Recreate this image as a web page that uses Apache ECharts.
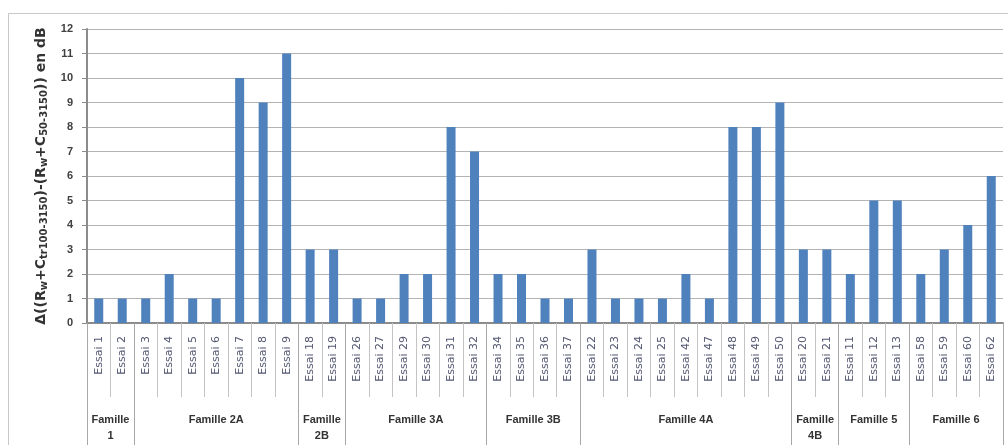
<!DOCTYPE html>
<html>
<head>
<meta charset="utf-8">
<script src="https://cdn.jsdelivr.net/npm/echarts@6/dist/echarts.min.js"></script>
<style>
html,body{margin:0;padding:0;background:#fff;}
#c{width:1008px;height:445px;}
</style>
</head>
<body>
<div id="c"></div>
<script>
const categories = ['Essai 1','Essai 2','Essai 3','Essai 4','Essai 5','Essai 6','Essai 7','Essai 8','Essai 9',
  'Essai 18','Essai 19','Essai 26','Essai 27','Essai 29','Essai 30','Essai 31','Essai 32',
  'Essai 34','Essai 35','Essai 36','Essai 37','Essai 22','Essai 23','Essai 24','Essai 25','Essai 42','Essai 47',
  'Essai 48','Essai 49','Essai 50','Essai 20','Essai 21','Essai 11','Essai 12','Essai 13',
  'Essai 58','Essai 59','Essai 60','Essai 62'];
const values = [1,1,1,2,1,1,10,9,11, 3,3, 1,1,2,2,8,7, 2,2,1,1, 3,1,1,1,2,1,8,8,9, 3,3, 2,5,5, 2,3,4,6];
const groupNames = ['Famille 1','Famille 2A','Famille 2B','Famille 3A','Famille 3B','Famille 4A','Famille 4B','Famille 5','Famille 6'];
const groupSizes = [2,7,2,6,4,9,2,3,4];
const yTicks = [0,1,2,3,4,5,6,7,8,9,10,11,12];

const boundaries = [0];
groupSizes.forEach(s => boundaries.push(boundaries[boundaries.length-1] + s));
const centers = groupSizes.map((s,i) => boundaries[i] + s/2);
function groupLabel(v){
  const i = centers.findIndex(c => Math.abs(c - v) < 1e-6);
  if (i < 0) return '';
  const n = groupNames[i];
  return groupSizes[i] <= 2 ? n.replace(' ', '\n') : n;
}

const chart = echarts.init(document.getElementById('c'));
chart.setOption({
  animation:false,
  backgroundColor:'#fff',
  graphic:[{type:'rect', shape:{x:8.5,y:13.5,width:1010,height:440}, style:{fill:'none', stroke:'#c8c8c8', lineWidth:1}, silent:true, z:-1}],
  grid:{left:87, top:29, right:5, bottom:122, containLabel:false},
  xAxis:[{
    type:'category', data:categories, gridIndex:0, position:'bottom',
    axisLine:{show:true, lineStyle:{color:'#8c8c8c', width:2}},
    axisTick:{show:true, alignWithLabel:false, length:74, lineStyle:{color:'#c4c4c4', width:1}},
    axisLabel:{rotate:90, interval:0, margin:13, fontFamily:'DejaVu Sans', fontSize:11, color:'#545872'},
    splitLine:{show:false}
  },{
    type:'value', min:0, max:boundaries[boundaries.length-1], gridIndex:0, position:'bottom',
    axisLine:{show:false},
    axisTick:{show:true, customValues:boundaries, length:122, lineStyle:{color:'#a8a8a8', width:1}},
    axisLabel:{show:true, customValues:centers, formatter:groupLabel, margin:89, fontFamily:'Liberation Sans', fontWeight:'bold', fontSize:11, lineHeight:16, color:'#333', verticalAlign:'top'},
    splitLine:{show:false}
  }],
  yAxis:{
    type:'value', min:0, max:12, interval:1,
    axisLine:{show:true, lineStyle:{color:'#8c8c8c', width:2}},
    axisTick:{show:true, length:5, lineStyle:{color:'#8c8c8c'}},
    axisLabel:{margin:14, fontFamily:'Liberation Sans', fontWeight:'bold', fontSize:11, color:'#404040',
      formatter:v => yTicks.includes(v) ? String(v) : ''},
    splitLine:{show:true, lineStyle:{color:'#b4b4b4', width:1}},
    name:'{n|Δ((R}{s|w}{n|+C}{s|tr100-3150}{n|)-(R}{s|w}{n|+C}{s|50-3150}{n|)) en dB}',
    nameLocation:'middle', nameGap:35, nameRotate:90,
    nameTextStyle:{
      rich:{
        n:{fontFamily:'DejaVu Sans', fontWeight:'bold', fontSize:14, color:'#333', lineHeight:18},
        s:{fontFamily:'DejaVu Sans', fontWeight:'bold', fontSize:10, color:'#333', lineHeight:10, verticalAlign:'bottom'}
      }
    }
  },
  series:[{
    type:'bar', data:values, xAxisIndex:0, yAxisIndex:0, barWidth:9,
    itemStyle:{color:'#4f81bd'}
  }]
});
</script>
</body>
</html>
